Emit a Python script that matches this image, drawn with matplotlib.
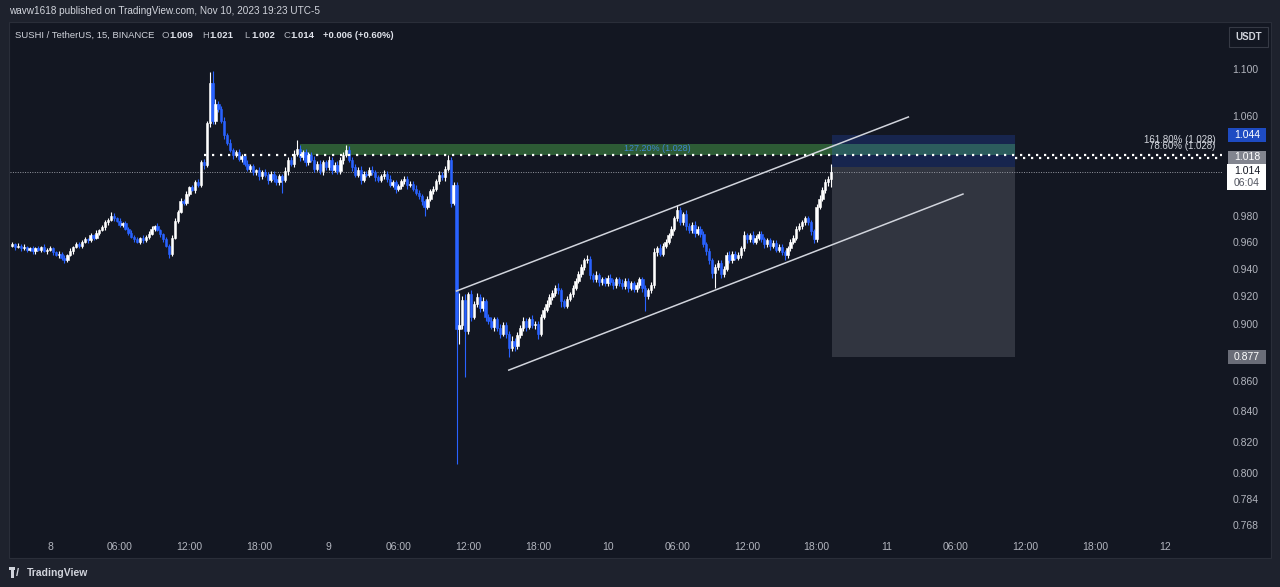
import matplotlib.pyplot as plt
from matplotlib.patches import Rectangle
from matplotlib.ticker import NullLocator

plt.rcParams['font.family'] = ['Liberation Sans', 'DejaVu Sans']

# SUSHI/USDT 15m candles, x = hours since Nov 8 00:00, prices x1000
first_hour = -3.25
first_open = 957
closes = [
    958, 956, 957, 955, 956, 954, 955, 953, 955, 954,
    956, 953, 954, 955, 952, 950, 951, 948, 946, 950,
    953, 956, 958, 957, 960, 962, 961, 965, 963, 967,
    969, 971, 975, 977, 980, 978, 976, 973, 974, 970,
    967, 964, 962, 960, 963, 961, 964, 966, 970, 972,
    969, 966, 962, 957, 951, 963, 976, 983, 991, 990,
    997, 1002, 1000, 1006, 1004, 1022, 1020, 1054, 1088, 1056,
    1070, 1066, 1056, 1044, 1038, 1032, 1028, 1030, 1025, 1027,
    1021, 1017, 1019, 1014, 1016, 1011, 1014, 1012, 1008, 1013,
    1009, 1006, 1011, 1008, 1015, 1024, 1021, 1029, 1033, 1026,
    1030, 1022, 1028, 1024, 1017, 1021, 1015, 1022, 1018, 1024,
    1016, 1020, 1015, 1024, 1028, 1032, 1024, 1018, 1012, 1016,
    1008, 1013, 1012, 1016, 1014, 1010, 1008, 1011, 1013, 1009,
    1004, 1006, 1001, 1003, 1007, 1009, 1004, 1005, 1001, 998,
    995, 991, 987, 993, 999, 1001, 1007, 1012, 1010, 1017,
    1024, 990, 1004, 896, 899, 917, 895, 921, 905, 914,
    919, 911, 916, 905, 902, 898, 903, 897, 893, 899,
    893, 883, 888, 884, 892, 897, 902, 898, 903, 899,
    900, 893, 905, 910, 914, 919, 922, 926, 924, 916,
    913, 918, 921, 926, 931, 936, 941, 946, 947, 935,
    932, 935, 930, 932, 929, 933, 930, 928, 932, 929,
    927, 931, 926, 929, 925, 928, 932, 926, 920, 924,
    928, 952, 955, 951, 957, 960, 965, 970, 978, 984,
    975, 981, 972, 969, 973, 967, 970, 966, 958, 953,
    946, 937, 941, 944, 936, 940, 950, 946, 951, 948,
    950, 955, 965, 962, 965, 960, 963, 966, 962, 958,
    961, 957, 959, 954, 956, 952, 950, 955, 960, 963,
    970, 972, 975, 978, 975, 968, 962, 987, 993, 1000,
    1006, 1009, 1014,
]
up_wick = [
    2, 1, 2, 1, 2, 1, 1, 2, 1, 2,  1, 2, 1, 2, 1, 1, 2, 1, 2, 1,
    2, 1, 2, 2, 1, 2, 1, 2, 1, 2,  1, 2, 2, 1, 3, 2, 1, 2, 1, 2,
    1, 2, 1, 2, 1, 2, 1, 2, 2, 1,  2, 1, 1, 2, 1, 2, 2, 1, 3, 2,
    2, 1, 2, 2, 3, 2, 3, 2, 9, 10, 4, 3, 2, 3, 2, 3, 2, 2, 3, 2,
    2, 3, 2, 2, 1, 2, 2, 3, 2, 2,  2, 3, 2, 2, 3, 2, 2, 3, 7, 3,
    2, 3, 2, 2, 3, 2, 3, 2, 2, 3,  2, 2, 3, 2, 2, 4, 3, 2, 3, 2,
    3, 2, 2, 2, 3, 2, 2, 2, 3, 2,  3, 2, 2, 2, 2, 2, 2, 2, 2, 3,
    2, 2, 2, 2, 2, 2, 2, 3, 2, 2,  4, 2, 2, 2, 23, 3, 4, 2, 3, 2,
    3, 2, 3, 2, 2, 3, 2, 2, 3, 2,  2, 2, 3, 2, 2, 2, 3, 2, 2, 3,
    2, 2, 2, 2, 3, 2, 2, 2, 3, 2,  2, 2, 2, 2, 2, 2, 2, 2, 3, 2,
    2, 3, 2, 2, 2, 2, 3, 2, 2, 2,  3, 2, 2, 2, 2, 2, 2, 2, 2, 2,
    2, 3, 2, 3, 2, 2, 2, 2, 2, 4,  3, 2, 3, 2, 2, 3, 2, 2, 2, 2,
    2, 2, 2, 2, 2, 2, 2, 3, 2, 2,  2, 2, 3, 2, 2, 3, 2, 2, 2, 2,
    2, 2, 2, 2, 2, 2, 2, 2, 2, 2,  2, 2, 2, 2, 2, 2, 2, 2, 3, 2,
    3, 2, 7,
]
down_wick = [
    1, 2, 1, 2, 1, 2, 1, 2, 2, 1,  2, 1, 2, 1, 2, 1, 2, 2, 2, 1,
    1, 2, 1, 2, 2, 1, 2, 1, 2, 1,  2, 1, 2, 2, 1, 2, 1, 2, 2, 1,
    2, 1, 2, 1, 2, 2, 1, 2, 1, 2,  1, 2, 2, 1, 3, 2, 1, 2, 1, 2,
    2, 2, 1, 2, 2, 2, 3, 2, 3, 3,  3, 3, 2, 3, 2, 2, 3, 2, 2, 3,
    2, 2, 3, 2, 2, 3, 2, 2, 3, 2,  3, 2, 2, 10, 2, 3, 2, 3, 2, 3,
    2, 3, 2, 2, 3, 2, 2, 3, 2, 2,  3, 2, 2, 2, 3, 2, 2, 3, 2, 2,
    3, 2, 2, 2, 2, 3, 2, 2, 2, 3,  2, 2, 3, 2, 2, 2, 3, 2, 2, 2,
    2, 3, 7, 2, 2, 2, 2, 2, 2, 3,  2, 3, 2, 90, 10, 3, 32, 2, 3, 2,
    2, 3, 2, 3, 2, 2, 3, 2, 3, 2,  3, 6, 2, 3, 2, 2, 2, 3, 2, 2,
    3, 4, 2, 2, 2, 2, 2, 2, 3, 4,  2, 2, 2, 2, 2, 2, 2, 2, 2, 3,
    2, 2, 3, 2, 2, 2, 2, 3, 2, 2,  2, 2, 3, 2, 2, 2, 2, 3, 11, 2,
    2, 2, 3, 2, 2, 2, 2, 2, 2, 2,  2, 2, 3, 2, 2, 3, 2, 2, 2, 3,
    3, 4, 11, 2, 3, 2, 2, 2, 2, 2,  2, 2, 2, 3, 2, 2, 2, 2, 2, 3,
    2, 3, 2, 2, 2, 2, 4, 2, 2, 2,  2, 2, 2, 2, 2, 3, 3, 2, 2, 2,
    2, 3, 7,
]

y_ticks = [1.100, 1.060, 0.980, 0.960, 0.940, 0.920, 0.900,
           0.860, 0.840, 0.820, 0.800, 0.784, 0.768]
x_tick_hours = [0, 6, 12, 18, 24, 30, 36, 42, 48, 54, 60, 66, 72, 78, 84, 90, 96]
x_tick_labels = ['8', '06:00', '12:00', '18:00', '9', '06:00', '12:00', '18:00',
                 '10', '06:00', '12:00', '18:00', '11', '06:00', '12:00', '18:00', '12']

# drawings
fib_price, fib_top = 1.028, 1.037
fib_start, fib_end, fib_line_start = 21.5, 83.1, 13.3
pos_start, pos_end = 67.3, 83.1
target, entry, stop = 1.044, 1.018, 0.877
channel_up = ([35.0, 73.9], [0.9235, 1.0592])
channel_low = ([39.5, 78.6], [0.8677, 0.9968])
last_price = 1.014

W, H = 1280, 587
BG = '#131722'
UP, DOWN = '#ffffff', '#2962ff'
TXT = '#b2b5be'

fig = plt.figure(figsize=(W / 100, H / 100), dpi=100, facecolor='#1e222d')


def fx(x):
    return x / W


def fy(y):
    return 1 - y / H


def px_rect(x0, y0, x1, y1, fc, ec='none', z=5):
    fig.patches.append(Rectangle((fx(x0), fy(y1)), (x1 - x0) / W, (y1 - y0) / H,
                                 transform=fig.transFigure, facecolor=fc,
                                 edgecolor=ec, linewidth=0.8, zorder=z))


# chart pane
px_rect(9, 22, 1271, 558, BG, ec='#2a2e39', z=-1)

ax = fig.add_axes([fx(10), fy(535), 1212 / W, 513 / H])
ax.set_facecolor('none')
ax.set_yscale('log')
ax.set_xlim(-3.44, 100.9)
ax.set_ylim(0.7620, 1.1415)
for s in ax.spines.values():
    s.set_visible(False)

# candles
n = len(closes)
hours = [first_hour + 0.25 * i for i in range(n)]
opens = [first_open] + closes[:-1]
for h, o, c, uw, dw in zip(hours, opens, closes, up_wick, down_wick):
    col = UP if c >= o else DOWN
    top, bot = max(o, c) / 1000, min(o, c) / 1000
    ax.vlines(h, bot - dw / 1000, top + uw / 1000, color=col, lw=0.8, zorder=4)
    ax.bar(h, top - bot, bottom=bot, width=0.2, color=col,
           edgecolor=col, linewidth=0.4, zorder=4)

# fib box and levels
ax.fill_between([fib_start, fib_end], fib_price, fib_top, color='#2d5b35', lw=0, zorder=1)
ax.text((fib_start + fib_end) / 2, 1.0335, '127.20% (1.028)', color='#3d86d0',
        fontsize=6.5, ha='center', va='center', zorder=3)

# long position tool
ax.fill_between([pos_start, pos_end], entry, target, color=(41/255, 98/255, 1, 0.2), lw=0, zorder=2)
ax.fill_between([pos_start, pos_end], stop, entry, color=(120/255, 123/255, 134/255, 0.3), lw=0, zorder=2)

ax.plot([fib_line_start, 100.9], [fib_price, fib_price], color='white', lw=1.6,
        linestyle=(0, (1, 2.6)), zorder=6)
ax.plot([fib_end, 100.9], [1.0255, 1.0255], color='white', lw=1.6,
        linestyle=(0, (1, 2.6)), zorder=6)
ax.text(100.35, 1.0398, '161.80% (1.028)', color='#d1d4dc', fontsize=7,
        ha='right', va='center', zorder=7)
ax.text(100.35, 1.0352, '78.60% (1.028)', color='#d1d4dc', fontsize=7,
        ha='right', va='center', zorder=7)

# last price line
ax.axhline(last_price, color='#9598a1', lw=0.7, linestyle=(0, (1, 1.5)), zorder=3)

# channel
ax.plot(*channel_up, color='#d1d4dc', lw=1.1, zorder=5)
ax.plot(*channel_low, color='#d1d4dc', lw=1.1, zorder=5)

# axes ticks
ax.yaxis.tick_right()
ax.set_yticks(y_ticks)
ax.set_yticklabels([f'{t:.3f}' for t in y_ticks])
ax.yaxis.set_minor_locator(NullLocator())
ax.set_xticks(x_tick_hours)
ax.set_xticklabels(x_tick_labels)
ax.tick_params(axis='y', length=0, pad=7.5, labelsize=7.5, labelcolor=TXT)
ax.tick_params(axis='x', length=0, pad=5, labelsize=7.5, labelcolor=TXT)

# price scale labels
px_rect(1228, 128, 1266, 142, '#1e4bc2')
fig.text(fx(1247), fy(135), '1.044', color='white', fontsize=7.5, ha='center', va='center', zorder=6)
px_rect(1228, 151, 1266, 164, '#82858f')
fig.text(fx(1247), fy(157.5), '1.018', color='white', fontsize=7.5, ha='center', va='center', zorder=6)
px_rect(1227, 164, 1266, 190, 'white')
fig.text(fx(1247), fy(171), '1.014', color='#131722', fontsize=7.5, ha='center', va='center', zorder=6)
fig.text(fx(1247), fy(183), '06:04', color='#50535e', fontsize=7.5, ha='center', va='center', zorder=6)
px_rect(1228, 350, 1266, 364, '#6a6d78')
fig.text(fx(1247), fy(357), '0.877', color='white', fontsize=7.5, ha='center', va='center', zorder=6)

px_rect(1229, 27, 1268, 47, BG, ec='#363a45')
fig.text(fx(1248.5), fy(37), 'USDT', color='#d1d4dc', fontsize=7, ha='center', va='center',
         weight='bold', zorder=6)

# header texts
fig.text(fx(9), fy(11), 'wavw1618 published on TradingView.com, Nov 10, 2023 19:23 UTC-5',
         color='#d1d4dc', fontsize=7.2, va='center')
fig.text(fx(15), fy(35), 'SUSHI / TetherUS, 15, BINANCE', color='#d1d4dc', fontsize=6.8, va='center')
for x, lab, val in [(162, 'O', '1.009'), (202, 'H', '1.021'), (244, 'L', '1.002'), (283, 'C', '1.014')]:
    fig.text(fx(x), fy(35), lab, color='#b2b5be', fontsize=6.8, va='center')
    fig.text(fx(x + 7), fy(35), val, color='#e0e3eb', fontsize=6.8, va='center', weight='bold')
fig.text(fx(323), fy(35), '+0.006 (+0.60%)', color='#e0e3eb', fontsize=6.8, va='center', weight='bold')

# footer
px_rect(9, 567, 15, 570, '#d1d4dc', z=5)
px_rect(11, 567, 14, 578, '#d1d4dc', z=5)
fig.text(fx(16), fy(572.5), '/', color='#d1d4dc', fontsize=8, weight='bold', va='center')
fig.text(fx(27), fy(572.5), 'TradingView', color='#d1d4dc', fontsize=7.5, va='center', weight='bold')

fig.savefig('out.png', dpi=100, facecolor=fig.get_facecolor())
